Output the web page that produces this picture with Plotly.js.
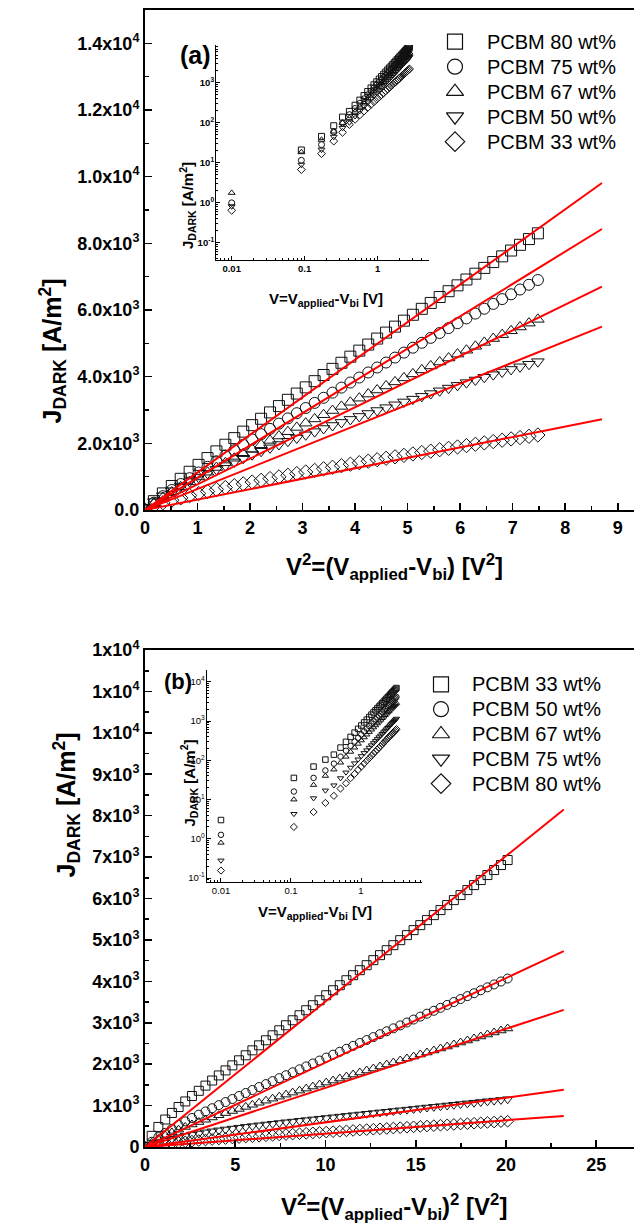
<!DOCTYPE html>
<html><head><meta charset="utf-8">
<script src="https://cdn.plot.ly/plotly-3.0.1.min.js"></script>
<style>html,body{margin:0;padding:0;background:#fff;overflow:hidden}#c{width:634px;height:1229px}</style>
</head><body><div id="c"></div>
<script>
// ---------- Panel (a): main, J vs V^2 ----------
const xA = [0,0.17,0.34,0.51,0.68,0.85,1.02,1.19,1.36,1.53,1.7,1.87,2.04,2.21,2.38,2.55,2.72,2.89,3.06,3.23,3.4,3.57,3.74,3.91,4.08,4.25,4.42,4.59,4.76,4.93,5.1,5.27,5.44,5.61,5.78,5.95,6.12,6.29,6.46,6.63,6.8,6.97,7.14,7.31,7.48];
const jA80 = [0,265,498,721,936,1147,1354,1558,1759,1958,2156,2351,2545,2737,2928,3117,3306,3493,3679,3865,4050,4234,4417,4600,4781,4963,5143,5322,5501,5680,5857,6035,6212,6389,6564,6740,6915,7089,7263,7438,7610,7784,7956,8128,8300];
const jA75 = [0,220,414,599,778,954,1125,1295,1462,1628,1792,1954,2116,2275,2434,2592,2748,2904,3059,3213,3367,3520,3672,3824,3974,4126,4275,4424,4573,4722,4869,5017,5164,5311,5457,5603,5748,5893,6038,6183,6327,6471,6614,6757,6900];
const jA67 = [0,205,377,538,693,844,991,1135,1276,1415,1553,1689,1823,1956,2088,2219,2349,2477,2605,2732,2858,2984,3108,3232,3355,3478,3600,3722,3843,3963,4084,4203,4322,4440,4559,4677,4794,4911,5028,5144,5260,5376,5491,5606,5720];
const jA50 = [0,251,425,578,719,852,979,1100,1218,1332,1443,1552,1658,1762,1864,1964,2063,2160,2256,2350,2444,2536,2628,2718,2807,2896,2984,3070,3156,3242,3326,3410,3493,3576,3658,3739,3821,3901,3981,4060,4139,4217,4296,4373,4450];
const jA33 = [0,127,215,292,364,431,495,556,616,674,730,785,838,891,942,993,1043,1092,1141,1188,1236,1282,1329,1374,1420,1464,1509,1552,1596,1639,1682,1724,1766,1808,1850,1891,1932,1972,2013,2053,2093,2132,2172,2211,2250];
const fitXA = [0, 8.7];
const fitA80 = [0, 9810], fitA75 = [0, 8430], fitA67 = [0, 6700], fitA50 = [0, 5500], fitA33 = [0, 2720];
const namesA = ['PCBM 80 wt%','PCBM 75 wt%','PCBM 67 wt%','PCBM 50 wt%','PCBM 33 wt%'];

// ---------- Panel (a): inset, J vs V (log-log) ----------
const vAin = [0.01,0.09,0.17,0.25,0.33,0.41,0.49,0.57,0.65,0.73,0.81,0.89,0.97,1.05,1.13,1.21,1.29,1.37,1.45,1.53,1.61,1.69,1.77,1.85,1.93,2.01,2.09,2.17,2.25,2.33,2.41,2.49,2.57,2.65,2.73];
const iA80 = [null,21,46,85,140,194,277,373,484,609,749,902,1070,1252,1448,1658,1882,2120,2371,2638,2917,3212,3520,3842,4177,4528,4891,5268,5657,6066,6484,6918,7363,7824,8300];
const iA75 = [1.0,11.6,28.6,60,100,161,230,310,402,506,623,750,889,1041,1204,1378,1564,1762,1971,2193,2425,2670,2926,3194,3472,3764,4066,4379,4703,5043,5390,5751,6121,6504,6900];
const iA67 = [1.78,18.5,38,61,100,134,191,257,334,420,516,622,737,863,998,1143,1297,1461,1634,1818,2010,2214,2426,2648,2879,3121,3371,3631,3899,4181,4469,4768,5075,5392,5720];
const iA50 = [0.82,9,21.5,45,75,104,149,200,259,326,402,484,574,671,776,889,1009,1137,1271,1414,1564,1722,1887,2060,2239,2427,2622,2824,3033,3252,3476,3709,3947,4194,4450];
const iA33 = [0.65,6.8,17,35,58,91,123,159,199,242,289,339,392,448,507,569,634,702,772,846,922,1000,1082,1166,1252,1342,1433,1527,1623,1722,1823,1926,2032,2140,2250];

// ---------- Panel (b): main, J vs V^2 ----------
const xB = [0,0.37,0.74,1.12,1.49,1.86,2.23,2.6,2.98,3.35,3.72,4.09,4.46,4.84,5.21,5.58,5.95,6.32,6.7,7.07,7.44,7.81,8.18,8.56,8.93,9.3,9.67,10.04,10.42,10.79,11.16,11.53,11.9,12.28,12.65,13.02,13.39,13.76,14.14,14.51,14.88,15.25,15.62,16,16.37,16.74,17.11,17.48,17.86,18.23,18.6,18.97,19.34,19.72,20.09];
const jB33 = [0,270,484,664,822,966,1100,1231,1357,1482,1605,1728,1849,1971,2093,2214,2334,2455,2576,2697,2818,2939,3060,3181,3302,3423,3543,3664,3785,3906,4027,4148,4269,4390,4511,4632,4752,4873,4994,5115,5236,5357,5478,5599,5720,5841,5961,6082,6203,6324,6445,6566,6687,6808,6929];
const jB50 = [0,126,239,343,440,531,618,701,781,859,936,1011,1085,1159,1232,1304,1376,1448,1519,1591,1662,1733,1804,1875,1946,2017,2087,2158,2229,2300,2370,2441,2512,2582,2653,2724,2794,2865,2936,3006,3077,3148,3219,3289,3360,3431,3501,3572,3643,3713,3784,3855,3925,3996,4067];
const jB67 = [0,103,194,276,351,419,484,544,602,658,713,766,818,869,919,969,1019,1068,1118,1167,1215,1264,1313,1361,1410,1459,1507,1555,1604,1652,1701,1749,1798,1846,1894,1943,1991,2039,2088,2136,2184,2233,2281,2330,2378,2426,2475,2523,2571,2620,2668,2716,2765,2813,2861];
const jB75 = [0,59,111,157,198,235,269,299,327,354,378,402,424,445,466,486,505,524,543,561,579,597,614,632,649,666,683,700,717,734,751,768,785,802,819,836,852,869,886,903,919,936,953,970,986,1003,1020,1037,1053,1070,1087,1104,1120,1137,1154];
const jB80 = [0,27,50,72,91,109,125,141,155,168,181,193,205,217,228,239,250,260,271,281,291,301,311,321,331,341,351,360,370,380,390,400,409,419,429,438,448,458,467,477,487,497,506,516,526,535,545,555,564,574,584,593,603,613,622];
const fitXB = [0, 23.2];
const fitB33 = [0, 8150], fitB50 = [0, 4730], fitB67 = [0, 3310], fitB75 = [0, 1380], fitB80 = [0, 750];
const namesB = ['PCBM 33 wt%','PCBM 50 wt%','PCBM 67 wt%','PCBM 75 wt%','PCBM 80 wt%'];

// ---------- Panel (b): inset ----------
const vBin = [0.01,0.11,0.21,0.31,0.41,0.51,0.61,0.71,0.81,0.91,1.01,1.11,1.21,1.31,1.41,1.51,1.61,1.71,1.81,1.91,2.01,2.11,2.21,2.31,2.41,2.51,2.61,2.71,2.81,2.91,3.01,3.11,3.21];
const iB33 = [3.0,35.5,69,104,139,210,295,394,506,632,770,922,1085,1263,1453,1653,1868,2094,2333,2584,2847,3122,3410,3710,4019,4342,4679,5024,5381,5751,6132,6525,6930];
const iB50 = [1.26,16,35.5,55,82,124,175,233,300,374,456,545,642,747,859,978,1105,1239,1380,1528,1684,1847,2017,2195,2378,2569,2768,2972,3183,3402,3628,3861,4100];
const iB67 = [0.79,10,23.5,40,58,87,123,164,210,263,320,383,451,525,604,687,776,870,969,1074,1183,1297,1417,1542,1670,1805,1945,2088,2236,2390,2549,2712,2880];
const iB75 = [0.28,4.3,10.8,17,23,35,49,65,84,105,128,153,180,210,241,274,310,347,387,429,472,518,566,616,667,721,777,834,893,954,1018,1083,1150];
const iB80 = [0.155,2.0,4.8,8.2,12.4,19,26,35,45,57,69,83,97,113,130,148,167,187,209,231,255,279,305,332,360,389,419,449,481,515,549,584,620];

// legend rows (one per series)
const legendRows = [0, 1, 2, 3, 4];

// ---------- Build ----------
const FONT = 'Liberation Sans, Arial, sans-serif';
const symbols = ['square-open','circle-open','triangle-up-open','triangle-down-open','diamond-open'];
const traces = [];
function markers(x, y, sym, size, xa, ya){
  traces.push({x:x, y:y, type:'scatter', mode:'markers', xaxis:xa, yaxis:ya, showlegend:false,
    marker:{symbol:sym, size:size, color:'#111', line:{color:'#111', width:1}}, hoverinfo:'skip'});
}
function fit(x, y, xa, ya){
  traces.push({x:x, y:y, type:'scatter', mode:'lines', xaxis:xa, yaxis:ya, showlegend:false,
    line:{color:'#ff0000', width:2}, hoverinfo:'skip'});
}
const yA = [jA80, jA75, jA67, jA50, jA33];
const fA = [fitA80, fitA75, fitA67, fitA50, fitA33];
const iA = [iA80, iA75, iA67, iA50, iA33];
const yB = [jB33, jB50, jB67, jB75, jB80];
const fB = [fitB33, fitB50, fitB67, fitB75, fitB80];
const iB = [iB33, iB50, iB67, iB75, iB80];
for (let s=0; s<5; s++) markers(xA, yA[s], symbols[s], 11, 'x', 'y');
for (let s=0; s<5; s++) fit(fitXA, fA[s], 'x', 'y');
for (let s=0; s<5; s++) markers(xB, yB[s], symbols[s], 9, 'x2', 'y2');
for (let s=0; s<5; s++) fit(fitXB, fB[s], 'x2', 'y2');
for (let s=0; s<5; s++) markers(vAin, iA[s], symbols[s], 6, 'x3', 'y3');
for (let s=0; s<5; s++) markers(vBin, iB[s], symbols[s], 5.5, 'x4', 'y4');
// legend keys (drawn on hidden legend axes)
const keyX = 15, textX = 45;
['x5','x6'].forEach((xa, i) => {
  traces.push({x:legendRows.map(()=>keyX), y:legendRows, type:'scatter', mode:'markers', xaxis:xa, yaxis: i ? 'y6' : 'y5',
    showlegend:false, hoverinfo:'skip', cliponaxis:false,
    marker:{symbol:symbols, size:15, color:'#111', line:{color:'#111', width:1.2}}});
});

const W = 634, H = 1229;
const px = v => v / W, py = v => 1 - v / H;
const tickBold = {family:FONT, size:18, color:'#000', weight:'bold'};
function mainAxis(extra){
  return Object.assign({showgrid:false, zeroline:false, showline:true, linecolor:'#000', linewidth:2,
    ticks:'inside', ticklen:7, tickwidth:1.6, tickcolor:'#000', tickfont:tickBold, fixedrange:true}, extra);
}
function insetAxis(extra, bold){
  return Object.assign({type:'log', showgrid:false, zeroline:false, showline:true, linecolor:'#000', linewidth:1,
    ticks:'inside', ticklen:4, tickwidth:1, tickcolor:'#000',
    tickfont:{family:FONT, size:9.5, color:'#000', weight: bold ? 'bold' : 'normal'},
    minor:{ticks:'inside', ticklen:2, tickcolor:'#000', dtick:'D1'}, fixedrange:true}, extra);
}
function hiddenAxis(extra){
  return Object.assign({visible:false, showgrid:false, zeroline:false, fixedrange:true}, extra);
}
const tvA = [0,2000,4000,6000,8000,10000,12000,14000];
const ttA = ['0.0','2.0x10<sup>3</sup>','4.0x10<sup>3</sup>','6.0x10<sup>3</sup>','8.0x10<sup>3</sup>','1.0x10<sup>4</sup>','1.2x10<sup>4</sup>','1.4x10<sup>4</sup>'];
const tvB = [0,1000,2000,3000,4000,5000,6000,7000,8000,9000,10000,11000,12000];
const ttB = ['0','1x10<sup>3</sup>','2x10<sup>3</sup>','3x10<sup>3</sup>','4x10<sup>3</sup>','5x10<sup>3</sup>','6x10<sup>3</sup>','7x10<sup>3</sup>','8x10<sup>3</sup>','9x10<sup>3</sup>','1x10<sup>4</sup>','1x10<sup>4</sup>','1x10<sup>4</sup>'];
const decV = [0.01,0.1,1], decT = ['0.01','0.1','1'];
const decJ = [0.1,1,10,100,1000,10000];
const decJT = ['10<sup>-1</sup>','10<sup>0</sup>','10<sup>1</sup>','10<sup>2</sup>','10<sup>3</sup>','10<sup>4</sup>'];

const annotations = [
  {text:'(a)', x:px(178), y:py(39), xref:'paper', yref:'paper', showarrow:false, font:{family:FONT, size:25, weight:'bold'}},
  {text:'(b)', x:px(162), y:py(681), xref:'paper', yref:'paper', showarrow:false, font:{family:FONT, size:22, weight:'bold'}},
  {text:'J<sub>DARK</sub> [A/m<sup>2</sup>]', textangle:-90, x:px(32), y:py(277), xref:'paper', yref:'paper', showarrow:false, font:{family:FONT, size:25, weight:'bold'}},
  {text:'V<sup>2</sup>=(V<sub>applied</sub>-V<sub>bi</sub>) [V<sup>2</sup>]', x:px(394), y:py(567), xref:'paper', yref:'paper', showarrow:false, font:{family:FONT, size:24, weight:'bold'}},
  {text:'J<sub>DARK</sub> [A/m<sup>2</sup>]', textangle:-90, x:px(46), y:py(880), xref:'paper', yref:'paper', showarrow:false, font:{family:FONT, size:25, weight:'bold'}},
  {text:'V<sup>2</sup>=(V<sub>applied</sub>-V<sub>bi</sub>)<sup>2</sup> [V<sup>2</sup>]', x:px(394), y:py(1226), xref:'paper', yref:'paper', showarrow:false, font:{family:FONT, size:24, weight:'bold'}},
  {text:'J<sub>DARK</sub> [A/m<sup>2</sup>]', textangle:-90, x:px(175), y:py(160), xref:'paper', yref:'paper', showarrow:false, font:{family:FONT, size:15, weight:'bold'}},
  {text:'V=V<sub>applied</sub>-V<sub>bi</sub> [V]', x:px(326), y:py(288), xref:'paper', yref:'paper', showarrow:false, font:{family:FONT, size:15, weight:'bold'}},
  {text:'J<sub>DARK</sub> [A/m<sup>2</sup>]', textangle:-90, x:px(176), y:py(783), xref:'paper', yref:'paper', showarrow:false, font:{family:FONT, size:15, weight:'bold'}},
  {text:'V=V<sub>applied</sub>-V<sub>bi</sub> [V]', x:px(315), y:py(924), xref:'paper', yref:'paper', showarrow:false, font:{family:FONT, size:15, weight:'bold'}}
];
legendRows.forEach(r => {
  annotations.push({text:namesA[r], x:textX, y:r, xref:'x5', yref:'y5', xanchor:'left', yanchor:'middle', showarrow:false, font:{family:FONT, size:20, color:'#000'}});
  annotations.push({text:namesB[r], x:textX - 1, y:r, xref:'x6', yref:'y6', xanchor:'left', yanchor:'middle', showarrow:false, font:{family:FONT, size:20, color:'#000'}});
});

const layout = {
  width:W, height:H, margin:{l:0,r:0,t:0,b:0}, paper_bgcolor:'#fff', plot_bgcolor:'rgba(0,0,0,0)',
  font:{family:FONT, color:'#000'}, showlegend:false,
  xaxis: mainAxis({domain:[px(145),1], range:[0,9.31], anchor:'y', mirror:true, tickmode:'linear', tick0:0, dtick:1,
    minor:{ticks:'inside', ticklen:4, tickcolor:'#000', dtick:0.5, tick0:0}}),
  yaxis: mainAxis({domain:[py(510),py(10)], range:[0,15000], anchor:'x', tickmode:'array', tickvals:tvA, ticktext:ttA,
    minor:{ticks:'inside', ticklen:4, tickcolor:'#000', dtick:1000, tick0:0}}),
  xaxis2: mainAxis({domain:[px(145),1], range:[0,27.09], anchor:'y2', mirror:true, tickmode:'linear', tick0:0, dtick:5,
    minor:{ticks:'inside', ticklen:4, tickcolor:'#000', dtick:2.5, tick0:0}}),
  yaxis2: mainAxis({domain:[py(1147),py(650)], range:[0,12000], anchor:'x2', tickmode:'array', tickvals:tvB, ticktext:ttB,
    minor:{ticks:'inside', ticklen:4, tickcolor:'#000', dtick:500, tick0:0}}),
  xaxis3: insetAxis({domain:[px(216),px(429)], range:[-2.215,0.703], anchor:'y3', tickmode:'array', tickvals:decV, ticktext:decT}, true),
  yaxis3: insetAxis({domain:[py(260),py(45)], range:[-1.43,3.95], anchor:'x3', tickmode:'array', tickvals:decJ, ticktext:decJT, ticklabelstandoff:-1}, true),
  xaxis4: insetAxis({domain:[px(206.7),px(421.7)], range:[-2.204,0.867], anchor:'y4', tickmode:'array', tickvals:decV, ticktext:decT}, false),
  yaxis4: insetAxis({domain:[py(881.7),py(670)], range:[-1.094,4.30], anchor:'x4', tickmode:'array', tickvals:decJ, ticktext:decJT, ticklabelstandoff:-1}, false),
  xaxis5: hiddenAxis({domain:[px(440),1], range:[0,194], anchor:'y5'}),
  yaxis5: hiddenAxis({domain:[py(154.2),py(29.2)], range:[4.5,-0.5], anchor:'x5'}),
  xaxis6: hiddenAxis({domain:[px(426),1], range:[0,208], anchor:'y6'}),
  yaxis6: hiddenAxis({domain:[py(796),py(672)], range:[4.5,-0.5], anchor:'x6'}),
  annotations: annotations
};
Plotly.newPlot('c', traces, layout, {staticPlot:true, displayModeBar:false});
</script>
</body></html>
